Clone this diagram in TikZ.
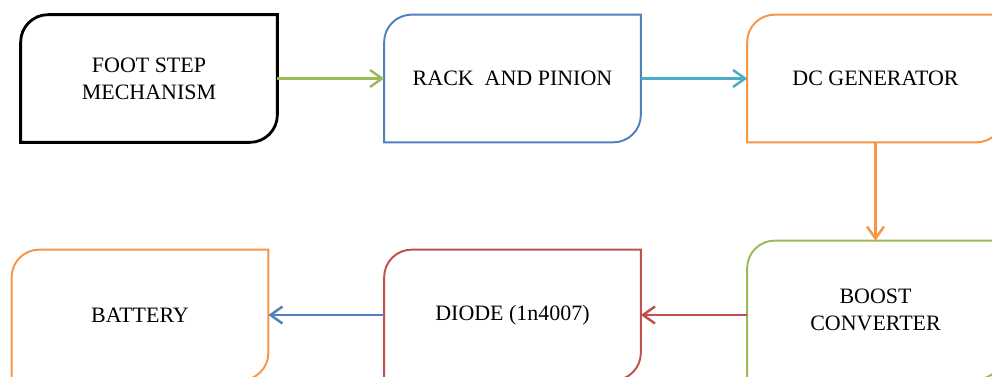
\documentclass[tikz,border=0pt]{standalone}
\usepackage{fontspec}
\setmainfont{Liberation Serif}
\usetikzlibrary{positioning,arrows.meta,calc}
\definecolor{offblue}{HTML}{4F81BD}
\definecolor{offorange}{HTML}{F79646}
\definecolor{offgreen}{HTML}{9BBB59}
\definecolor{offred}{HTML}{C0504D}
\definecolor{offteal}{HTML}{4BACC6}
\tikzset{
  blockbox/.style={minimum width=5.12cm, minimum height=2.54cm, align=center, inner sep=0pt, font=\fontsize{12.5}{15.2}\selectfont},
  flowarrow/.style={-{Straight Barb[length=2.4mm, width=3.4mm]}, line width=1.4pt},
  edgeline/.style={line width=1.1pt}
}
\begin{document}
\begin{tikzpicture}
  \clip (0,0) rectangle (19.84,7.52);
  \fill[white] (0,0) rectangle (19.84,7.52);

  % top row
  \node[blockbox] (foot) at (2.98,5.95) {FOOT STEP\\MECHANISM};
  \node[blockbox] (rack) at (10.25,5.95) {RACK\ \ AND PINION};
  \node[blockbox] (gen) at (17.51,5.95) {DC GENERATOR};
  % bottom row
  \node[blockbox, minimum height=2.76cm] (boost) at (17.51,1.32) {BOOST\\CONVERTER};
  \node[blockbox, minimum height=2.6cm] (diode) at (10.25,1.22) {DIODE (1n4007)};
  \node[blockbox, minimum height=2.6cm] (batt) at (2.8,1.22) {BATTERY};

  % outlines: rounded top-left and bottom-right corners
  \foreach \n/\c/\w in {foot/black/1.6pt, rack/offblue/1.1pt, gen/offorange/1.1pt,
                        boost/offgreen/1.1pt, diode/offred/1.1pt, batt/offorange/1.1pt}
    \draw[edgeline, draw=\c, line width=\w]
      ($(\n.north west)+(0,-0.55)$) arc[start angle=180, end angle=90, radius=0.55]
      -- (\n.north east) -- ($(\n.south east)+(0,0.55)$)
      arc[start angle=0, end angle=-90, radius=0.55] -- (\n.south west) -- cycle;

  \draw[flowarrow, offgreen] (foot) -- (rack);
  \draw[flowarrow, offteal] (rack) -- (gen);
  \draw[flowarrow, offorange] (gen) -- (boost);
  \draw[flowarrow, offred] (boost.west |- diode) -- (diode);
  \draw[flowarrow, offblue] (diode) -- (batt);
\end{tikzpicture}
\end{document}
